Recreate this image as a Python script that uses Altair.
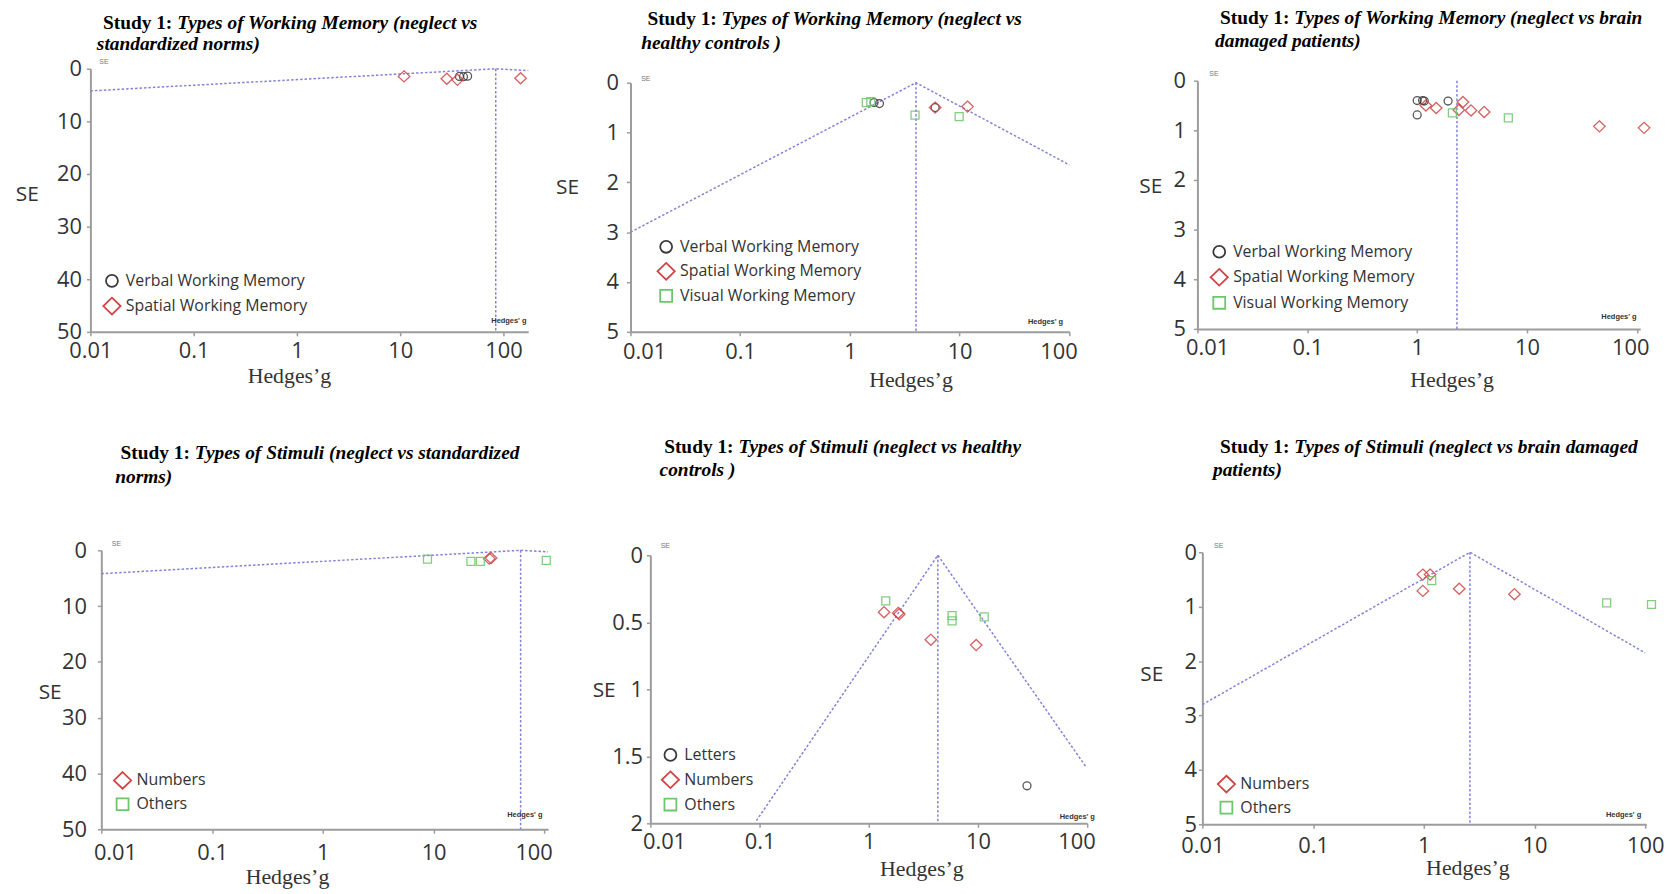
import altair as alt
import pandas as pd

# ---------------- colours / shapes ----------------
BLACK = "#3a3a3a"
RED = "#cf4545"
GREEN = "#6cc66c"
FUNNEL = "#8282d8"
DIAMOND = "M0,-1.4L1.45,0L0,1.4L-1.45,0Z"
X_TICKS = [0.01, 0.1, 1, 10, 100]

# ---------------- Panel 1 : WM, neglect vs standardized norms ----------------
p1_title = ["Types of Working Memory (neglect vs", "standardized norms)"]
p1_cats = ["Verbal Working Memory", "Spatial Working Memory"]
p1_verbal_g = [37.5, 41.0, 45.0]
p1_verbal_se = [1.45, 1.5, 1.4]
p1_spatial_g = [10.9, 28.3, 35.9, 146.7]
p1_spatial_se = [1.45, 1.9, 2.1, 1.8]
p1_funnel_g = [0.01, 84.3, 174.0]
p1_funnel_se = [4.2, 0.0, 0.34]
p1_mean_g = 84.3
p1_x_domain = [0.01, 174.0]
p1_y_ticks = [0, 10, 20, 30, 40, 50]

# ---------------- Panel 2 : WM, neglect vs healthy controls ----------------
p2_title = ["Types of Working Memory (neglect vs", "healthy controls )"]
p2_cats = ["Verbal Working Memory", "Spatial Working Memory", "Visual Working Memory"]
p2_verbal_g = [1.66, 1.86, 5.98]
p2_verbal_se = [0.40, 0.42, 0.50]
p2_spatial_g = [5.98, 11.8]
p2_spatial_se = [0.50, 0.48]
p2_visual_g = [1.41, 1.55, 3.92, 9.9]
p2_visual_se = [0.40, 0.38, 0.65, 0.68]
p2_funnel_g = [0.01, 4.0, 100.0]
p2_funnel_se = [3.0, 0.0, 1.65]
p2_mean_g = 4.0
p2_x_domain = [0.01, 100.0]
p2_y_ticks = [0, 1, 2, 3, 4, 5]

# ---------------- Panel 3 : WM, neglect vs brain damaged ----------------
p3_title = ["Types of Working Memory (neglect vs brain", "damaged patients)"]
p3_cats = ["Verbal Working Memory", "Spatial Working Memory", "Visual Working Memory"]
p3_verbal_g = [1.0, 1.0, 1.12, 1.16, 1.91]
p3_verbal_se = [0.40, 0.69, 0.40, 0.41, 0.41]
p3_spatial_g = [1.20, 1.49, 2.39, 2.61, 3.09, 4.07, 45.5, 116.0]
p3_spatial_se = [0.50, 0.55, 0.59, 0.43, 0.60, 0.63, 0.92, 0.95]
p3_visual_g = [2.09, 6.75]
p3_visual_se = [0.65, 0.75]
p3_mean_g = 2.30
p3_x_domain = [0.01, 107.0]
p3_y_ticks = [0, 1, 2, 3, 4, 5]

# ---------------- Panel 4 : Stimuli, neglect vs standardized norms ----------------
p4_title = ["Types of Stimuli (neglect vs standardized", "norms)"]
p4_cats = ["Numbers", "Others"]
p4_numbers_g = [31.8, 33.0]
p4_numbers_se = [1.5, 1.4]
p4_others_g = [8.8, 21.7, 26.4, 104.0]
p4_others_se = [1.6, 2.0, 2.0, 1.8]
p4_funnel_g = [0.01, 61.0, 108.0]
p4_funnel_se = [4.2, 0.0, 0.27]
p4_mean_g = 61.0
p4_x_domain = [0.01, 108.0]
p4_y_ticks = [0, 10, 20, 30, 40, 50]

# ---------------- Panel 5 : Stimuli, neglect vs healthy controls ----------------
p5_title = ["Types of Stimuli (neglect vs healthy", "controls )"]
p5_cats = ["Letters", "Numbers", "Others"]
p5_letters_g = [28.1]
p5_letters_se = [1.72]
p5_numbers_g = [1.38, 1.86, 1.9, 3.70, 9.63]
p5_numbers_se = [0.425, 0.43, 0.44, 0.63, 0.67]
p5_others_g = [1.43, 5.79, 5.79, 11.4]
p5_others_se = [0.34, 0.45, 0.49, 0.46]
p5_funnel_g = [0.0935, 4.29, 97.7]
p5_funnel_se = [1.98, 0.0, 1.58]
p5_mean_g = 4.29
p5_x_domain = [0.01, 100.0]
p5_y_ticks = [0, 0.5, 1, 1.5, 2]

# ---------------- Panel 6 : Stimuli, neglect vs brain damaged ----------------
p6_title = ["Types of Stimuli (neglect vs brain damaged", "patients)"]
p6_cats = ["Numbers", "Others"]
p6_numbers_g = [0.98, 0.98, 1.14, 2.09, 6.59]
p6_numbers_se = [0.41, 0.71, 0.41, 0.67, 0.77]
p6_others_g = [1.18, 44.9, 114.0]
p6_others_se = [0.52, 0.93, 0.96]
p6_funnel_g = [0.01, 2.61, 100.0]
p6_funnel_se = [2.8, 0.0, 1.85]
p6_mean_g = 2.61
p6_x_domain = [0.01, 102.0]
p6_y_ticks = [0, 1, 2, 3, 4, 5]

TITLE_FONT = "Liberation Serif"
TITLE_SIZE = 19.5
STUDY_W = 3.834 * TITLE_SIZE  # width of "Study 1: " in Times-metric bold


def text_layer(txt, x, y, size, weight="normal", style="normal", color="#000000",
               font=TITLE_FONT, align="left"):
    return alt.Chart(pd.DataFrame({"k": [0]})).mark_text(
        text=txt, font=font, fontSize=size, fontWeight=weight, fontStyle=style,
        color=color, align=align, baseline="middle"
    ).encode(x=alt.value(x), y=alt.value(y))


def panel(series, cats, shapes, colors, funnel_g, funnel_se, mean_g, se_max,
          x_domain, y_ticks, title, L):
    rows = []
    for cat, gs, ses in series:
        for g, s in zip(gs, ses):
            rows.append({"g": g, "se": s, "type": cat})
    pts = pd.DataFrame(rows)

    xs = alt.Scale(type="log", domain=x_domain, range=L["xr"], nice=False)
    ys = alt.Scale(domain=[0, se_max], range=L["yr"], nice=False, zero=False)
    xa = alt.Axis(values=X_TICKS, format="~f", title="Hedges’g",
                  titleX=L["xt"][0], titleY=L["xt"][1], titleBaseline="middle",
                  titleAlign="center",
                  labelFlush=(10 if L["flush"] else False), labelFlushOffset=L["fo"],
                  labelPadding=L["xlp"], offset=L["xoff"], labelOverlap=False)
    ya = alt.Axis(values=y_ticks, format="~f", title="SE", titleAngle=0,
                  titleX=L["yt"][0], titleY=L["yt"][1], titleAlign="center",
                  titleBaseline="middle", labelPadding=L["ylp"], offset=L["yoff"],
                  labelFlush=False, labelOverlap=False)
    X = alt.X("g:Q", scale=xs, axis=xa)
    Y = alt.Y("se:Q", scale=ys, axis=ya)

    layers = []
    if funnel_g is not None:
        fdf = pd.DataFrame({"g": funnel_g, "se": funnel_se, "i": list(range(len(funnel_g)))})
        layers.append(alt.Chart(fdf).mark_line(color=FUNNEL, strokeDash=[2.5, 2],
                                               strokeWidth=1.5).encode(x=X, y=Y, order="i:O"))
    mdf = pd.DataFrame({"g": [mean_g], "se": [0.0], "se2": [se_max]})
    layers.append(alt.Chart(mdf).mark_rule(color=FUNNEL, strokeDash=[2.5, 2],
                                           strokeWidth=1.5).encode(x=X, y=Y, y2="se2:Q"))

    leg = alt.Legend(title=None, orient="none", legendX=L["leg"][0], legendY=L["leg"][1],
                     symbolSize=144, symbolStrokeWidth=1.8, symbolOpacity=1,
                     labelFont="Open Sans", labelFontSize=16, labelColor="#333333",
                     labelLimit=400, rowPadding=L["leg"][2], padding=0, labelOffset=6)
    layers.append(alt.Chart(pts).mark_point(filled=False, size=64, strokeWidth=1.3,
                                            opacity=0.85).encode(
        x=X, y=Y,
        color=alt.Color("type:N", scale=alt.Scale(domain=cats, range=colors), legend=leg),
        shape=alt.Shape("type:N", scale=alt.Scale(domain=cats, range=shapes), legend=leg),
    ))

    (t1x, t1y), (t2x, t2y) = L["title"]
    layers.append(text_layer("Study 1:", t1x, t1y, TITLE_SIZE, weight="bold"))
    layers.append(text_layer(title[0], t1x + STUDY_W, t1y, TITLE_SIZE, weight="bold", style="italic"))
    layers.append(text_layer(title[1], t2x, t2y, TITLE_SIZE, weight="bold", style="italic"))
    layers.append(text_layer("SE", L["tse"][0], L["tse"][1], 7, color="#777777",
                             font="Liberation Sans"))
    layers.append(text_layer("Hedges' g", L["thg"][0], L["thg"][1], 7.5, weight="bold",
                             color="#333333", font="Liberation Sans", align="center"))

    return alt.layer(*layers).properties(width=L["w"], height=L["h"])


SH_WM = ["circle", DIAMOND, "square"]
CO_WM = [BLACK, RED, GREEN]

L1 = dict(w=444, h=265, xr=[0, 441], yr=[0, 265], xoff=0, yoff=0, flush=False, fo=8,
          xlp=5, ylp=5, xt=(200, 44), yt=(-64, 126.7), leg=(13.7, 205.6, 3.4),
          title=[(12.6, -46.3), (6.5, -24.7)], tse=(9, -6.7), thg=(421.5, 254))
L2 = dict(w=471, h=265, xr=[0, 442], yr=[14, 265], xoff=0, yoff=0, flush=True, fo=8,
          xlp=6, ylp=8, xt=(282, 48), yt=(-64, 120), leg=(27.9, 171.3, 2.7),
          title=[(17, -49.7), (10.7, -26.3)], tse=(10.7, 10), thg=(418, 255))
L3 = dict(w=447, h=265, xr=[0, 446], yr=[12, 262], xoff=-3, yoff=0, flush=True, fo=12,
          xlp=5, ylp=8, xt=(256, 51), yt=(-47.5, 118.3), leg=(14, 176.3, 3.7),
          title=[(22.8, -50.7), (17.8, -28)], tse=(12, 5), thg=(424.6, 250))
L4 = dict(w=444, h=281, xr=[11, 461], yr=[0, 281], xoff=0, yoff=-11, flush=True, fo=8,
          xlp=9, ylp=11, xt=(198, 48), yt=(-52, 143), leg=(24.4, 223.8, 2.0),
          title=[(30.4, -97.5), (25, -74.2)], tse=(21.5, -6.7), thg=(437.6, 266.7))
L5 = dict(w=471, h=281, xr=[20, 460], yr=[5, 275], xoff=-6, yoff=-20, flush=True, fo=8,
          xlp=4, ylp=4, xt=(293, 46), yt=(-47, 141.7), leg=(32.2, 198.1, 3.0),
          title=[(33.9, -104.2), (29.3, -80.8)], tse=(30.4, -4), thg=(450, 268.3))
L6 = dict(w=447, h=281, xr=[5, 452], yr=[2, 276], xoff=-5, yoff=-5, flush=False, fo=8,
          xlp=7, ylp=2, xt=(272, 44), yt=(-51.5, 125), leg=(21.2, 227.5, 1.7),
          title=[(22.8, -104.2), (15.7, -80.8)], tse=(16.8, -4), thg=(429.3, 266.7))

c1 = panel([(p1_cats[0], p1_verbal_g, p1_verbal_se), (p1_cats[1], p1_spatial_g, p1_spatial_se)],
           p1_cats, SH_WM[:2], CO_WM[:2], p1_funnel_g, p1_funnel_se, p1_mean_g, 50,
           p1_x_domain, p1_y_ticks, p1_title, L1)
c2 = panel([(p2_cats[0], p2_verbal_g, p2_verbal_se), (p2_cats[1], p2_spatial_g, p2_spatial_se),
            (p2_cats[2], p2_visual_g, p2_visual_se)],
           p2_cats, SH_WM, CO_WM, p2_funnel_g, p2_funnel_se, p2_mean_g, 5,
           p2_x_domain, p2_y_ticks, p2_title, L2)
c3 = panel([(p3_cats[0], p3_verbal_g, p3_verbal_se), (p3_cats[1], p3_spatial_g, p3_spatial_se),
            (p3_cats[2], p3_visual_g, p3_visual_se)],
           p3_cats, SH_WM, CO_WM, None, None, p3_mean_g, 5,
           p3_x_domain, p3_y_ticks, p3_title, L3)
c4 = panel([(p4_cats[0], p4_numbers_g, p4_numbers_se), (p4_cats[1], p4_others_g, p4_others_se)],
           p4_cats, SH_WM[1:], CO_WM[1:], p4_funnel_g, p4_funnel_se, p4_mean_g, 50,
           p4_x_domain, p4_y_ticks, p4_title, L4)
c5 = panel([(p5_cats[0], p5_letters_g, p5_letters_se), (p5_cats[1], p5_numbers_g, p5_numbers_se),
            (p5_cats[2], p5_others_g, p5_others_se)],
           p5_cats, SH_WM, CO_WM, p5_funnel_g, p5_funnel_se, p5_mean_g, 2,
           p5_x_domain, p5_y_ticks, p5_title, L5)
c6 = panel([(p6_cats[0], p6_numbers_g, p6_numbers_se), (p6_cats[1], p6_others_g, p6_others_se)],
           p6_cats, SH_WM[1:], CO_WM[1:], p6_funnel_g, p6_funnel_se, p6_mean_g, 5,
           p6_x_domain, p6_y_ticks, p6_title, L6)

chart = alt.concat(
    c1, c2, c3, c4, c5, c6, columns=3,
    spacing={"row": 220, "column": 100}, bounds="flush", align="each",
).resolve_scale(
    x="independent", y="independent", color="independent", shape="independent"
).resolve_legend(
    color="independent", shape="independent"
).properties(
    padding={"left": 7, "top": -3, "right": 5, "bottom": 5}, background="white"
).configure_view(
    strokeWidth=0
).configure_axis(
    domainColor="#9c9c9c", domainWidth=2, tickColor="#9c9c9c", tickWidth=1.5, tickSize=4,
    labelFont="Open Sans", labelFontSize=22, labelColor="#333333", grid=False
).configure_axisX(
    titleFont="Liberation Serif", titleFontSize=22, titleFontWeight="normal", titleColor="#333333"
).configure_axisY(
    titleFont="Open Sans", titleFontSize=21, titleFontWeight="normal", titleColor="#333333"
)

chart.save("out.html", embed_options={"renderer": "svg", "actions": False})
